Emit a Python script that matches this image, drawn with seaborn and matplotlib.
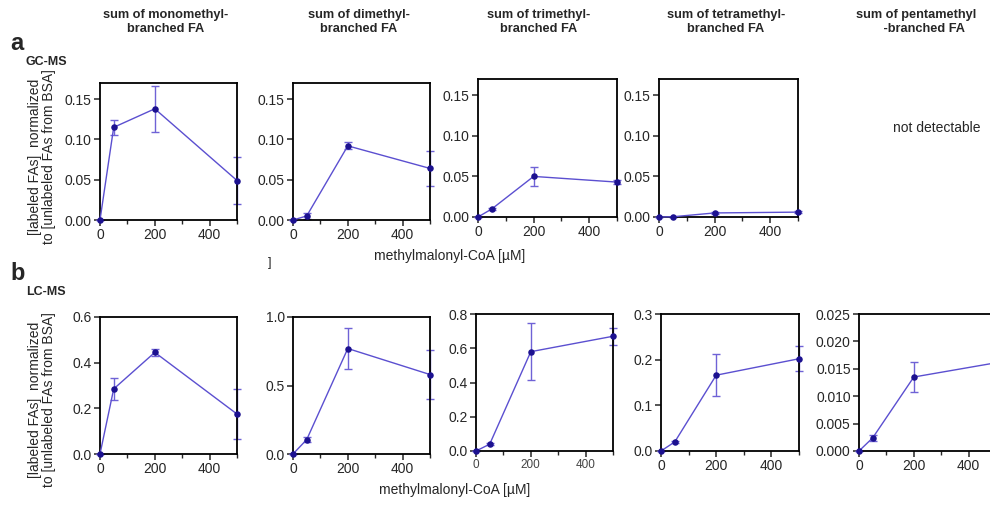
"""Labeled branched FA vs methylmalonyl-CoA: GC-MS (a) and LC-MS (b) panels."""

import numpy as np
import pandas as pd
import matplotlib
matplotlib.use("Agg")
import matplotlib.pyplot as plt
from matplotlib.ticker import MultipleLocator
import seaborn as sns

# methylmalonyl-CoA concentrations [uM]
conc = [0, 50, 200, 500]

panel_titles = [
    "sum of monomethyl-\nbranched FA",
    "sum of dimethyl-\nbranched FA",
    "sum of trimethyl-\nbranched FA",
    "sum of tetramethyl-\nbranched FA",
    "sum of pentamethyl\n     -branched FA",
]

# GC-MS means and symmetric error (SD)
gc_mono = [0.0, 0.115, 0.138, 0.049]
gc_mono_err = [0.0, 0.0095, 0.0285, 0.0295]
gc_di = [0.0, 0.005, 0.092, 0.064]
gc_di_err = [0.0, 0.004, 0.0045, 0.022]
gc_tri = [0.0, 0.010, 0.050, 0.043]
gc_tri_err = [0.0, 0.001, 0.012, 0.0025]
gc_tetra = [0.0, 0.0003, 0.005, 0.006]
gc_tetra_err = [0.0, 0.0002, 0.0008, 0.0008]

# LC-MS means and symmetric error (SD)
lc_mono = [0.0, 0.285, 0.445, 0.175]
lc_mono_err = [0.0, 0.047, 0.014, 0.108]
lc_di = [0.0, 0.105, 0.77, 0.58]
lc_di_err = [0.0, 0.02, 0.15, 0.18]
lc_tri = [0.0, 0.04, 0.58, 0.67]
lc_tri_err = [0.0, 0.004, 0.167, 0.05]
lc_tetra = [0.0, 0.020, 0.166, 0.202]
lc_tetra_err = [0.0, 0.002, 0.046, 0.027]
lc_penta = [0.0, 0.0024, 0.0135, 0.0161]
lc_penta_err = [0.0, 0.0005, 0.0028, 0.0015]

gc_ylims = [(0.17, 0.05)] * 4
lc_ylims = [(0.6, 0.2), (1.0, 0.5), (0.8, 0.2), (0.3, 0.1), (0.025, 0.005)]

# panel boxes in pixels: left, top, right, bottom
gc_boxes = [(100, 83, 237, 220), (293, 83, 430, 220),
            (478, 79, 617, 217), (659, 79, 798, 217)]
lc_boxes = [(100, 317, 237, 454), (293, 317, 430, 454),
            (476, 314, 613, 451), (661, 314, 799, 451),
            (859, 314, 996, 451)]

W, H = 990, 507
LINE_COLOR = "#5b4fd0"
DOT_COLOR = "#1c1190"
ERR_COLOR = "#6f62d6"
YLABEL = "[labeled FAs]  normalized\nto [unlabeled FAs from BSA]"


def make_axes(fig, box):
    l, t, r, b = box
    return fig.add_axes([l / W, 1 - b / H, (r - l) / W, (b - t) / H])


def draw_panel(ax, values, errors, ylim, small_xticks=False, yfmt="{:.2f}"):
    """One concentration-response panel."""
    df = pd.DataFrame({"conc": conc, "value": values, "err": errors})
    ax.errorbar(df["conc"], df["value"], yerr=df["err"], fmt="none",
                ecolor=ERR_COLOR, elinewidth=1.0, capsize=3, capthick=1.0,
                clip_on=False, zorder=2)
    sns.lineplot(data=df, x="conc", y="value", ax=ax, color=LINE_COLOR,
                 linewidth=1.0, errorbar=None, legend=False, zorder=3,
                 clip_on=False)
    ax.scatter(df["conc"], df["value"], s=22, color=DOT_COLOR, zorder=4,
               clip_on=False, linewidths=0)

    top, step = ylim
    ax.set_xlim(0, 500)
    ax.set_ylim(0, top)
    ax.xaxis.set_major_locator(MultipleLocator(200))
    ax.xaxis.set_minor_locator(MultipleLocator(100))
    ax.yaxis.set_major_locator(MultipleLocator(step))
    ax.yaxis.set_major_formatter(plt.FuncFormatter(lambda v, p: yfmt.format(v)))
    ax.set_xlabel("")
    ax.set_ylabel("")
    for side in ax.spines.values():
        side.set_visible(True)
        side.set_linewidth(1.3)
        side.set_color("black")
    ax.tick_params(which="major", direction="out", length=4, width=1.1,
                   labelsize=10, pad=2)
    ax.tick_params(which="minor", direction="out", length=3, width=1.0)
    ax.tick_params(axis="y", which="minor", length=0)
    if small_xticks:
        ax.tick_params(axis="x", labelsize=8.5, labelcolor="#444444")


def main():
    sns.set_style("ticks")
    plt.rcParams["font.family"] = ["Liberation Sans", "DejaVu Sans"]

    fig = plt.figure(figsize=(W / 100, H / 100), dpi=100)

    # row a: GC-MS
    gc_data = [(gc_mono, gc_mono_err), (gc_di, gc_di_err),
               (gc_tri, gc_tri_err), (gc_tetra, gc_tetra_err)]
    for box, (vals, errs), ylim in zip(gc_boxes, gc_data, gc_ylims):
        ax = make_axes(fig, box)
        draw_panel(ax, vals, errs, ylim)

    # row b: LC-MS
    lc_data = [(lc_mono, lc_mono_err), (lc_di, lc_di_err),
               (lc_tri, lc_tri_err), (lc_tetra, lc_tetra_err),
               (lc_penta, lc_penta_err)]
    lc_fmts = ["{:.1f}", "{:.1f}", "{:.1f}", "{:.1f}", "{:.3f}"]
    for i, (box, (vals, errs), ylim) in enumerate(zip(lc_boxes, lc_data, lc_ylims)):
        ax = make_axes(fig, box)
        draw_panel(ax, vals, errs, ylim, small_xticks=(i == 2), yfmt=lc_fmts[i])

    # column titles
    title_x = [166, 359, 539, 726, 916]
    for x, title in zip(title_x, panel_titles):
        fig.text(x / W, 1 - 22 / H, title, ha="center", va="center",
                 fontsize=9.2, fontweight="bold", linespacing=1.25)

    fig.text(893 / W, 1 - 128 / H, "not detectable", ha="left", va="center",
             fontsize=10)

    # panel letters and method labels
    fig.text(10 / W, 1 - 43 / H, "a", fontsize=17, fontweight="bold", va="center")
    fig.text(26 / W, 1 - 62 / H, "GC-MS", fontsize=9, fontweight="bold", va="center")
    fig.text(10 / W, 1 - 273 / H, "b", fontsize=17, fontweight="bold", va="center")
    fig.text(26 / W, 1 - 292 / H, "LC-MS", fontsize=9, fontweight="bold", va="center")

    # y labels
    for yc in (157, 400):
        fig.text(42 / W, 1 - yc / H, YLABEL, rotation=90, ha="center",
                 va="center", fontsize=10, linespacing=1.0)

    # x labels
    fig.text(450 / W, 1 - 256 / H, "methylmalonyl-CoA [µM]", ha="center",
             va="center", fontsize=10)
    fig.text(270 / W, 1 - 263 / H, "]", ha="center", va="center", fontsize=9)
    fig.text(455 / W, 1 - 490 / H, "methylmalonyl-CoA [µM]", ha="center",
             va="center", fontsize=10)

    fig.savefig("out.png", dpi=100)
    plt.close(fig)
    print("Saved out.png")


if __name__ == "__main__":
    main()
